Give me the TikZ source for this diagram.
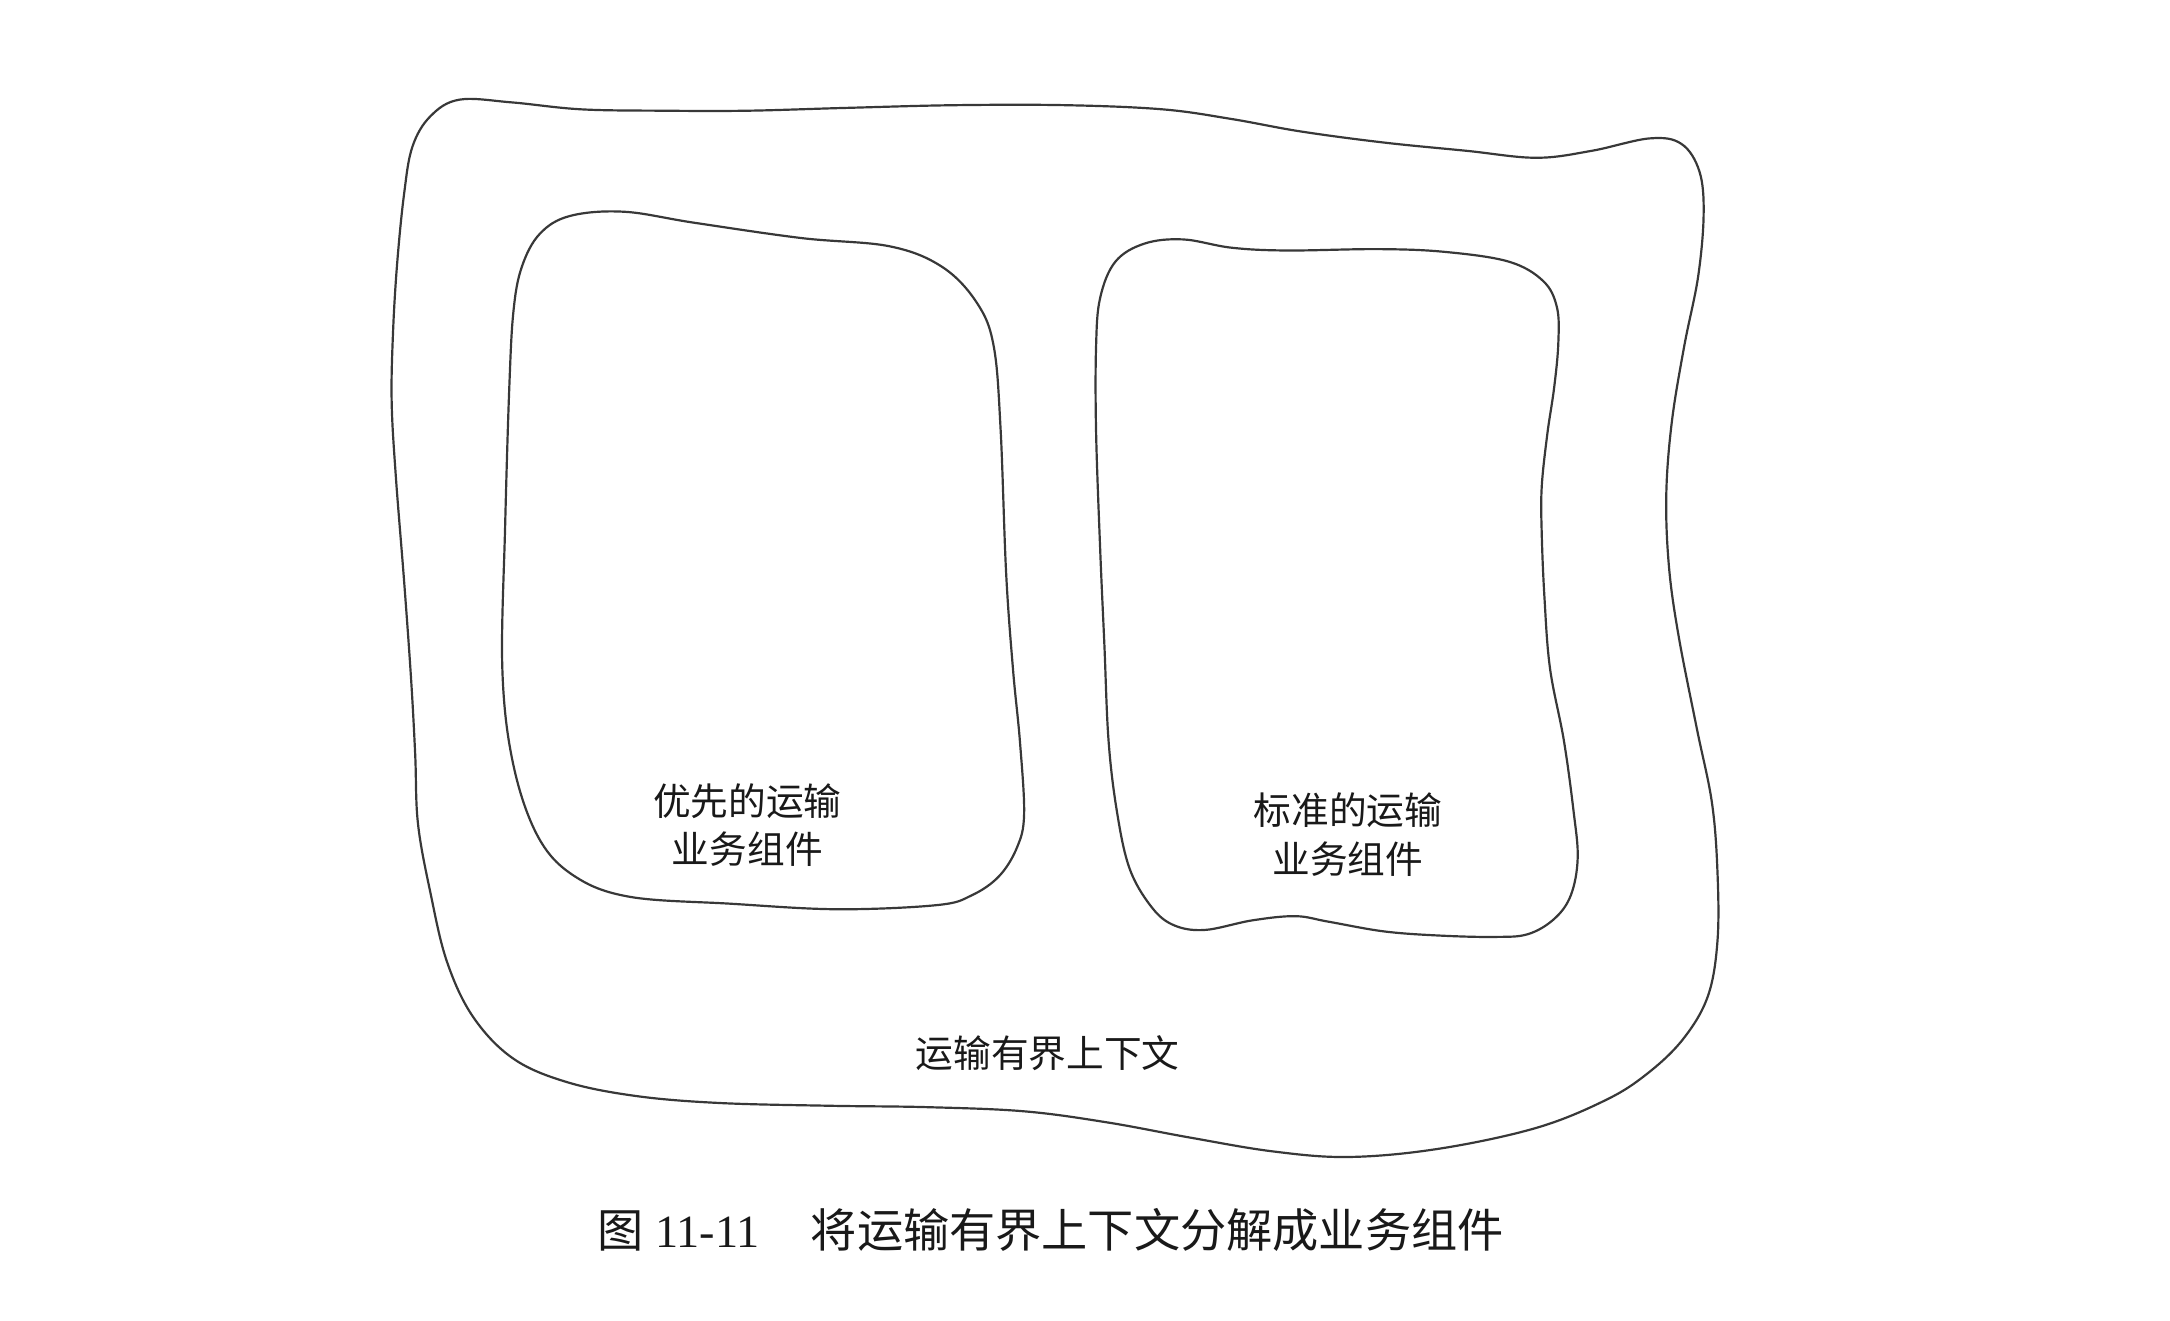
\documentclass[tikz,border=0pt]{standalone}
\usepackage{fontspec}
\setmainfont{Liberation Serif}
\newfontfamily\cjk{Noto Sans CJK SC}
\begin{document}
\begin{tikzpicture}[x=0.02cm,y=-0.02cm,
  blob/.style={draw=black!78, line width=0.9pt},
  lbl/.style={font=\cjk\fontsize{15.5}{19.9}\selectfont, text=black!90, align=center, inner sep=0pt},
  captext/.style={font=\fontsize{19}{22}\selectfont, text=black!90, inner sep=0pt}]
\useasboundingbox[fill=white] (0,0) rectangle (1568,954);
% outer bounded context
\draw[blob] plot[smooth cycle, tension=0.6] coordinates {
(332,72) (370,74) (420,79) (480,80) (540,80) (610,78) (690,76) (770,76) (840,79) (890,86) (940,95) (1000,103) (1060,109) (1110,114) (1150,109) (1192,100) (1215,104) (1228,124) (1231,155) (1227,200) (1217,250) (1208,305) (1204,358) (1206,410) (1213,460) (1226,526) (1237,580) (1241,630) (1241,680) (1234,720) (1216,751) (1190,776) (1160,795) (1110,815) (1040,830) (975,836) (920,832) (860,822) (800,811) (740,803) (670,800) (600,799) (520,797) (460,792) (410,782) (371,765) (342,735) (323,695) (311,645) (302,595) (300,545) (297,490) (292,420) (286,344) (283,290) (284,240) (287,190) (292,140) (298,106) (311,84)};
% left component
\draw[blob] plot[smooth cycle, tension=0.6] coordinates {
(412,156) (451,153) (502,161) (579,172) (643,178) (681,193) (706,219) (718,250) (723,310) (727,414) (732,484) (737,536) (740,588) (735,612) (722,633) (702,647) (677,654) (605,657) (528,653) (455,648) (415,633) (389,605) (371,553) (363,484) (365,380) (368,280) (371,225) (377,193) (390,169)};
% right component
\draw[blob] plot[smooth cycle, tension=0.6] coordinates {
(827,176) (855,173) (890,179) (930,181) (996,180) (1044,182) (1090,189) (1115,203) (1125,222) (1126,248) (1123,280) (1118,314) (1114,352) (1114,385) (1116,432) (1120,483) (1130,535) (1137,586) (1140,620) (1135,647) (1123,664) (1104,675) (1080,677) (1040,676) (1000,673) (960,666) (936,662) (905,665) (870,672) (847,668) (831,654) (816,627) (807,586) (801,535) (798,466) (795,398) (792,312) (792,250) (795,215) (806,189)};
\node[lbl] (prio) at (540,596) {优先的运输\\业务组件};
\node[lbl] (std) at (974,603) {标准的运输\\业务组件};
\node[lbl] (ctx) at (757,761) {运输有界上下文};
\node[captext] (cap) at (759,889) {{\cjk 图}\hspace{5pt}11-11\hspace{21pt}{\cjk 将运输有界上下文分解成业务组件}};
\end{tikzpicture}
\end{document}
